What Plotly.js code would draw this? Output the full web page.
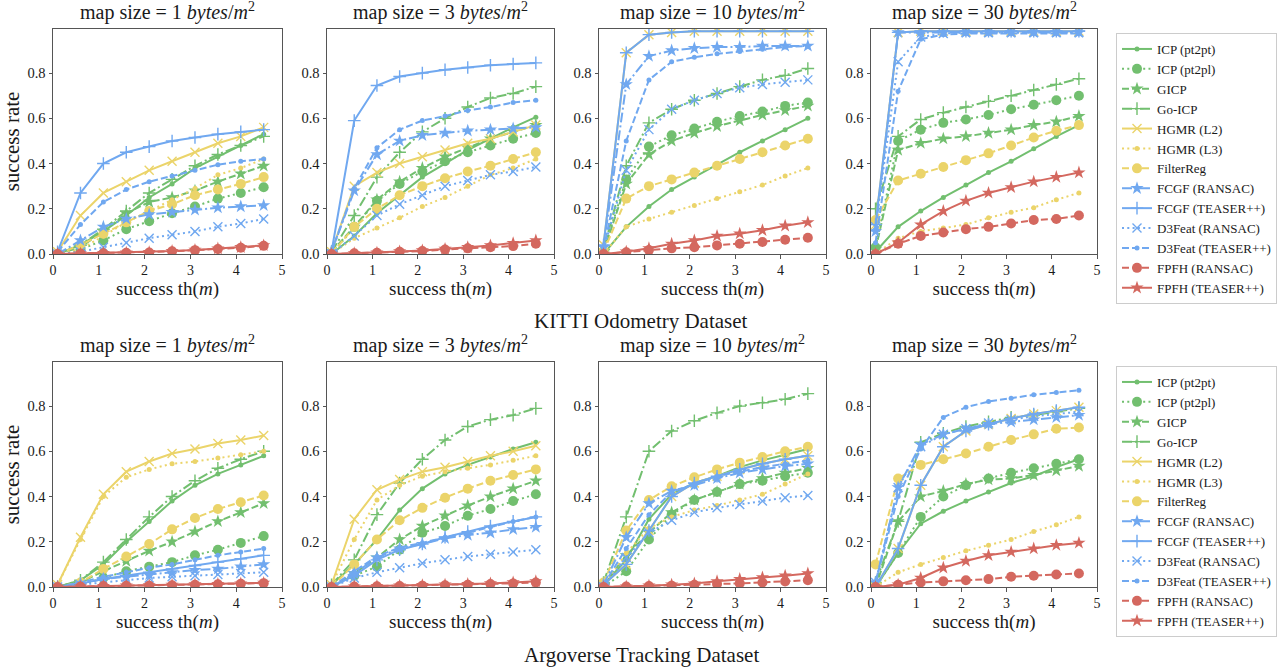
<!DOCTYPE html>
<html>
<head>
<meta charset="utf-8">
<script src="https://cdn.plot.ly/plotly-3.0.1.min.js"></script>
<style>html,body{margin:0;padding:0;background:#fff;}#chart{width:1286px;height:670px;}</style>
</head>
<body>
<div id="chart"></div>
<script>
// ---------------- DATA ----------------
const thresholds = [0.1, 0.6, 1.1, 1.6, 2.1, 2.6, 3.1, 3.6, 4.1, 4.6];
const mapSizes = [1, 3, 10, 30];
const datasets = ['KITTI Odometry Dataset', 'Argoverse Tracking Dataset'];
const methods = ['ICP (pt2pt)', 'ICP (pt2pl)', 'GICP', 'Go-ICP', 'HGMR (L2)', 'HGMR (L3)', 'FilterReg',
  'FCGF (RANSAC)', 'FCGF (TEASER++)', 'D3Feat (RANSAC)', 'D3Feat (TEASER++)', 'FPFH (RANSAC)', 'FPFH (TEASER++)'];

// KITTI: one row per map size (1, 3, 10, 30 bytes/m^2)
const kitti_icp_pt2pt = [
  [0.00, 0.04, 0.10, 0.17, 0.25, 0.31, 0.38, 0.43, 0.48, 0.53],
  [0.00, 0.08, 0.18, 0.26, 0.34, 0.40, 0.46, 0.51, 0.56, 0.605],
  [0.00, 0.12, 0.21, 0.285, 0.34, 0.395, 0.45, 0.50, 0.55, 0.60],
  [0.01, 0.12, 0.19, 0.25, 0.305, 0.36, 0.41, 0.465, 0.52, 0.57]];
const kitti_icp_pt2pl = [
  [0.00, 0.02, 0.06, 0.11, 0.145, 0.18, 0.21, 0.245, 0.27, 0.295],
  [0.00, 0.12, 0.235, 0.31, 0.365, 0.41, 0.45, 0.48, 0.51, 0.535],
  [0.01, 0.33, 0.475, 0.525, 0.555, 0.585, 0.61, 0.63, 0.655, 0.67],
  [0.03, 0.50, 0.55, 0.58, 0.595, 0.615, 0.64, 0.66, 0.68, 0.70]];
const kitti_gicp = [
  [0.00, 0.03, 0.10, 0.18, 0.23, 0.25, 0.28, 0.32, 0.355, 0.39],
  [0.01, 0.12, 0.24, 0.32, 0.38, 0.43, 0.47, 0.51, 0.54, 0.57],
  [0.01, 0.31, 0.44, 0.50, 0.535, 0.565, 0.59, 0.615, 0.635, 0.655],
  [0.02, 0.46, 0.49, 0.51, 0.52, 0.535, 0.55, 0.57, 0.585, 0.61]];
const kitti_goicp = [
  [0.00, 0.04, 0.11, 0.19, 0.27, 0.33, 0.39, 0.44, 0.48, 0.52],
  [0.01, 0.17, 0.34, 0.45, 0.54, 0.60, 0.65, 0.69, 0.71, 0.74],
  [0.02, 0.39, 0.58, 0.64, 0.68, 0.71, 0.74, 0.77, 0.79, 0.82],
  [0.20, 0.52, 0.595, 0.625, 0.65, 0.675, 0.70, 0.725, 0.75, 0.775]];
const kitti_hgmr_l2 = [
  [0.01, 0.17, 0.27, 0.32, 0.37, 0.41, 0.45, 0.49, 0.52, 0.56],
  [0.01, 0.30, 0.36, 0.40, 0.43, 0.46, 0.49, 0.51, 0.54, 0.57],
  [0.04, 0.89, 0.97, 0.98, 0.985, 0.985, 0.985, 0.985, 0.985, 0.985],
  [0.13, 0.98, 0.985, 0.985, 0.985, 0.985, 0.985, 0.985, 0.985, 0.985]];
const kitti_hgmr_l3 = [
  [0.00, 0.02, 0.08, 0.14, 0.19, 0.24, 0.29, 0.35, 0.38, 0.42],
  [0.00, 0.07, 0.115, 0.16, 0.21, 0.25, 0.30, 0.35, 0.38, 0.42],
  [0.00, 0.12, 0.155, 0.185, 0.215, 0.245, 0.275, 0.305, 0.345, 0.38],
  [0.00, 0.07, 0.10, 0.115, 0.13, 0.16, 0.185, 0.205, 0.24, 0.27]];
const kitti_filterreg = [
  [0.00, 0.04, 0.09, 0.14, 0.19, 0.22, 0.26, 0.285, 0.31, 0.34],
  [0.00, 0.12, 0.20, 0.26, 0.30, 0.335, 0.365, 0.39, 0.42, 0.45],
  [0.01, 0.245, 0.30, 0.33, 0.36, 0.39, 0.42, 0.45, 0.48, 0.51],
  [0.15, 0.325, 0.355, 0.385, 0.415, 0.445, 0.48, 0.515, 0.545, 0.57]];
const kitti_fcgf_ransac = [
  [0.00, 0.06, 0.12, 0.155, 0.175, 0.185, 0.195, 0.205, 0.21, 0.215],
  [0.01, 0.28, 0.44, 0.50, 0.525, 0.535, 0.545, 0.55, 0.555, 0.56],
  [0.03, 0.75, 0.875, 0.90, 0.91, 0.915, 0.915, 0.92, 0.92, 0.92],
  [0.10, 0.98, 0.98, 0.98, 0.98, 0.98, 0.98, 0.98, 0.98, 0.98]];
const kitti_fcgf_teaser = [
  [0.01, 0.27, 0.40, 0.45, 0.475, 0.50, 0.515, 0.53, 0.54, 0.55],
  [0.01, 0.59, 0.745, 0.785, 0.80, 0.815, 0.825, 0.835, 0.84, 0.845],
  [0.04, 0.89, 0.97, 0.98, 0.985, 0.985, 0.985, 0.985, 0.985, 0.985],
  [0.13, 0.98, 0.985, 0.985, 0.985, 0.985, 0.985, 0.985, 0.985, 0.985]];
const kitti_d3feat_ransac = [
  [0.00, 0.01, 0.03, 0.05, 0.07, 0.085, 0.10, 0.12, 0.135, 0.155],
  [0.00, 0.08, 0.17, 0.22, 0.26, 0.30, 0.325, 0.35, 0.365, 0.385],
  [0.02, 0.37, 0.55, 0.64, 0.68, 0.71, 0.735, 0.75, 0.76, 0.77],
  [0.12, 0.85, 0.96, 0.975, 0.98, 0.98, 0.98, 0.98, 0.98, 0.98]];
const kitti_d3feat_teaser = [
  [0.01, 0.13, 0.23, 0.285, 0.32, 0.345, 0.37, 0.395, 0.41, 0.42],
  [0.01, 0.29, 0.47, 0.55, 0.59, 0.61, 0.635, 0.65, 0.67, 0.68],
  [0.02, 0.50, 0.77, 0.85, 0.87, 0.885, 0.895, 0.905, 0.915, 0.92],
  [0.05, 0.72, 0.95, 0.97, 0.975, 0.975, 0.975, 0.975, 0.975, 0.975]];
const kitti_fpfh_ransac = [
  [0.00, 0.002, 0.003, 0.005, 0.007, 0.012, 0.017, 0.022, 0.028, 0.036],
  [0.00, 0.003, 0.005, 0.010, 0.013, 0.020, 0.025, 0.030, 0.035, 0.045],
  [0.00, 0.008, 0.018, 0.025, 0.030, 0.038, 0.045, 0.053, 0.063, 0.072],
  [0.00, 0.045, 0.08, 0.095, 0.11, 0.12, 0.135, 0.15, 0.155, 0.17]];
const kitti_fpfh_teaser = [
  [0.00, 0.002, 0.004, 0.006, 0.008, 0.013, 0.018, 0.024, 0.030, 0.038],
  [0.00, 0.003, 0.006, 0.011, 0.016, 0.022, 0.030, 0.038, 0.048, 0.060],
  [0.00, 0.010, 0.025, 0.045, 0.060, 0.080, 0.090, 0.105, 0.125, 0.14],
  [0.00, 0.05, 0.13, 0.19, 0.235, 0.27, 0.295, 0.32, 0.34, 0.36]];

// Argoverse: one row per map size (1, 3, 10, 30 bytes/m^2)
const argo_icp_pt2pt = [
  [0.00, 0.03, 0.10, 0.20, 0.29, 0.38, 0.45, 0.50, 0.54, 0.58],
  [0.01, 0.10, 0.21, 0.34, 0.435, 0.50, 0.54, 0.575, 0.61, 0.64],
  [0.01, 0.12, 0.30, 0.41, 0.46, 0.49, 0.53, 0.56, 0.585, 0.61],
  [0.00, 0.15, 0.28, 0.335, 0.38, 0.42, 0.46, 0.49, 0.53, 0.565]];
const argo_icp_pt2pl = [
  [0.00, 0.01, 0.04, 0.07, 0.09, 0.11, 0.14, 0.165, 0.195, 0.225],
  [0.00, 0.05, 0.09, 0.165, 0.24, 0.27, 0.315, 0.345, 0.38, 0.41],
  [0.00, 0.07, 0.21, 0.32, 0.385, 0.42, 0.455, 0.47, 0.49, 0.505],
  [0.00, 0.15, 0.31, 0.40, 0.45, 0.48, 0.505, 0.525, 0.545, 0.565]];
const argo_gicp = [
  [0.00, 0.02, 0.07, 0.115, 0.16, 0.20, 0.245, 0.29, 0.33, 0.37],
  [0.00, 0.06, 0.13, 0.21, 0.27, 0.315, 0.36, 0.40, 0.435, 0.47],
  [0.01, 0.14, 0.24, 0.33, 0.385, 0.42, 0.455, 0.48, 0.505, 0.525],
  [0.00, 0.29, 0.40, 0.425, 0.455, 0.475, 0.48, 0.495, 0.515, 0.535]];
const argo_goicp = [
  [0.00, 0.03, 0.11, 0.21, 0.31, 0.40, 0.47, 0.525, 0.565, 0.60],
  [0.01, 0.12, 0.32, 0.46, 0.565, 0.65, 0.71, 0.74, 0.76, 0.79],
  [0.02, 0.31, 0.60, 0.69, 0.735, 0.77, 0.80, 0.815, 0.83, 0.855],
  [0.02, 0.29, 0.64, 0.68, 0.71, 0.73, 0.75, 0.76, 0.775, 0.79]];
const argo_hgmr_l2 = [
  [0.01, 0.22, 0.41, 0.51, 0.555, 0.59, 0.61, 0.635, 0.65, 0.67],
  [0.01, 0.30, 0.43, 0.475, 0.51, 0.53, 0.555, 0.58, 0.60, 0.625],
  [0.01, 0.10, 0.25, 0.40, 0.46, 0.49, 0.52, 0.545, 0.565, 0.58],
  [0.00, 0.17, 0.45, 0.62, 0.69, 0.72, 0.745, 0.765, 0.78, 0.795]];
const argo_hgmr_l3 = [
  [0.01, 0.21, 0.40, 0.485, 0.52, 0.545, 0.555, 0.57, 0.585, 0.60],
  [0.01, 0.21, 0.385, 0.45, 0.49, 0.51, 0.525, 0.54, 0.56, 0.58],
  [0.00, 0.15, 0.26, 0.31, 0.34, 0.36, 0.385, 0.41, 0.455, 0.50],
  [0.00, 0.065, 0.10, 0.13, 0.16, 0.185, 0.21, 0.245, 0.275, 0.31]];
const argo_filterreg = [
  [0.00, 0.02, 0.08, 0.135, 0.19, 0.255, 0.305, 0.345, 0.375, 0.405],
  [0.00, 0.10, 0.21, 0.295, 0.35, 0.395, 0.435, 0.47, 0.495, 0.52],
  [0.02, 0.25, 0.385, 0.445, 0.485, 0.52, 0.55, 0.575, 0.60, 0.62],
  [0.10, 0.48, 0.54, 0.565, 0.59, 0.62, 0.65, 0.675, 0.70, 0.705]];
const argo_fcgf_ransac = [
  [0.00, 0.015, 0.035, 0.045, 0.055, 0.065, 0.075, 0.08, 0.09, 0.10],
  [0.00, 0.06, 0.13, 0.17, 0.19, 0.215, 0.23, 0.24, 0.255, 0.265],
  [0.01, 0.22, 0.37, 0.425, 0.45, 0.48, 0.505, 0.52, 0.535, 0.545],
  [0.02, 0.44, 0.63, 0.675, 0.70, 0.72, 0.73, 0.74, 0.75, 0.76]];
const argo_fcgf_teaser = [
  [0.00, 0.015, 0.035, 0.05, 0.065, 0.08, 0.095, 0.11, 0.125, 0.14],
  [0.00, 0.05, 0.12, 0.165, 0.19, 0.22, 0.245, 0.27, 0.29, 0.31],
  [0.01, 0.10, 0.25, 0.40, 0.46, 0.49, 0.52, 0.545, 0.565, 0.58],
  [0.00, 0.17, 0.45, 0.62, 0.69, 0.72, 0.745, 0.765, 0.78, 0.795]];
const argo_d3feat_ransac = [
  [0.00, 0.01, 0.02, 0.03, 0.04, 0.045, 0.05, 0.055, 0.06, 0.065],
  [0.00, 0.04, 0.065, 0.085, 0.105, 0.12, 0.135, 0.145, 0.155, 0.165],
  [0.00, 0.13, 0.24, 0.295, 0.33, 0.35, 0.365, 0.38, 0.395, 0.405],
  [0.02, 0.44, 0.62, 0.675, 0.70, 0.725, 0.74, 0.755, 0.765, 0.775]];
const argo_d3feat_teaser = [
  [0.00, 0.02, 0.045, 0.065, 0.085, 0.10, 0.12, 0.14, 0.155, 0.17],
  [0.00, 0.07, 0.135, 0.175, 0.195, 0.22, 0.24, 0.265, 0.29, 0.31],
  [0.01, 0.17, 0.32, 0.42, 0.455, 0.49, 0.51, 0.53, 0.545, 0.56],
  [0.02, 0.40, 0.61, 0.75, 0.795, 0.82, 0.835, 0.85, 0.86, 0.87]];
const argo_fpfh_ransac = [
  [0.00, 0.002, 0.004, 0.005, 0.006, 0.008, 0.010, 0.012, 0.014, 0.017],
  [0.00, 0.002, 0.003, 0.004, 0.006, 0.008, 0.010, 0.013, 0.016, 0.020],
  [0.00, 0.002, 0.004, 0.006, 0.010, 0.013, 0.016, 0.020, 0.024, 0.030],
  [0.00, 0.010, 0.020, 0.025, 0.030, 0.035, 0.045, 0.050, 0.055, 0.060]];
const argo_fpfh_teaser = [
  [0.00, 0.002, 0.004, 0.006, 0.007, 0.009, 0.011, 0.013, 0.015, 0.018],
  [0.00, 0.002, 0.004, 0.006, 0.008, 0.010, 0.013, 0.016, 0.020, 0.025],
  [0.00, 0.002, 0.006, 0.010, 0.015, 0.025, 0.035, 0.042, 0.050, 0.060],
  [0.00, 0.010, 0.040, 0.085, 0.115, 0.14, 0.155, 0.17, 0.185, 0.195]];

// ---------------- STYLE ----------------
const GREEN = '#72bf6f', YELLOW = '#ebd46a', BLUE = '#70a8f0', RED = '#d4685f';
const DASHED = '7px,3px', DOTTED = '2px,3.3px', DASHDOT = '10px,3px,2px,3px';
const styles = [
  {color: GREEN, dash: 'solid', symbol: 'circle', size: 5},
  {color: GREEN, dash: DOTTED, symbol: 'circle', size: 10},
  {color: GREEN, dash: DASHED, symbol: 'star', size: 10},
  {color: GREEN, dash: DASHDOT, symbol: 'cross-thin', size: 9},
  {color: YELLOW, dash: 'solid', symbol: 'x-thin', size: 9},
  {color: YELLOW, dash: DOTTED, symbol: 'circle', size: 5},
  {color: YELLOW, dash: DASHED, symbol: 'circle', size: 10},
  {color: BLUE, dash: DASHDOT, symbol: 'star', size: 10},
  {color: BLUE, dash: 'solid', symbol: 'cross-thin', size: 9},
  {color: BLUE, dash: DOTTED, symbol: 'x-thin', size: 9},
  {color: BLUE, dash: DASHED, symbol: 'circle', size: 5},
  {color: RED, dash: DASHED, symbol: 'circle', size: 10},
  {color: RED, dash: 'solid', symbol: 'star', size: 10}
];
const kittiSeries = [kitti_icp_pt2pt, kitti_icp_pt2pl, kitti_gicp, kitti_goicp, kitti_hgmr_l2, kitti_hgmr_l3,
  kitti_filterreg, kitti_fcgf_ransac, kitti_fcgf_teaser, kitti_d3feat_ransac, kitti_d3feat_teaser,
  kitti_fpfh_ransac, kitti_fpfh_teaser];
const argoSeries = [argo_icp_pt2pt, argo_icp_pt2pl, argo_gicp, argo_goicp, argo_hgmr_l2, argo_hgmr_l3,
  argo_filterreg, argo_fcgf_ransac, argo_fcgf_teaser, argo_d3feat_ransac, argo_d3feat_teaser,
  argo_fpfh_ransac, argo_fpfh_teaser];

// ---------------- LAYOUT ----------------
const W = 1286, H = 670;
const colPx = [[53, 282], [327, 554], [599, 826], [871, 1097]];
const rowPx = [[29, 254], [362, 587]]; // top, bottom in px from top
const FONT = 'Liberation Serif, Times New Roman, serif';
const TXT = '#1a1a1a';
const layout = {
  width: W, height: H,
  margin: {l: 0, r: 0, t: 0, b: 0},
  paper_bgcolor: '#fff', plot_bgcolor: '#fff',
  font: {family: FONT, color: TXT, size: 14},
  annotations: [],
  legend: {
    x: 1116 / W, y: 1 - 33 / H, xanchor: 'left', yanchor: 'top',
    bordercolor: '#cccccc', borderwidth: 1, bgcolor: '#fff',
    font: {family: FONT, size: 13, color: TXT}, tracegroupgap: 0, itemwidth: 30
  },
  legend2: {
    x: 1116 / W, y: 1 - 366 / H, xanchor: 'left', yanchor: 'top',
    bordercolor: '#cccccc', borderwidth: 1, bgcolor: '#fff',
    font: {family: FONT, size: 13, color: TXT}, tracegroupgap: 0, itemwidth: 30
  }
};
const traces = [];
for (let r = 0; r < 2; r++) {
  const series = r === 0 ? kittiSeries : argoSeries;
  for (let c = 0; c < 4; c++) {
    const idx = r * 4 + c + 1;
    const xa = 'xaxis' + (idx === 1 ? '' : idx), ya = 'yaxis' + (idx === 1 ? '' : idx);
    const xr = 'x' + (idx === 1 ? '' : idx), yr = 'y' + (idx === 1 ? '' : idx);
    layout[xa] = {
      domain: [colPx[c][0] / W, colPx[c][1] / W], anchor: yr, range: [0, 5], dtick: 1, tick0: 0,
      showgrid: false, zeroline: false, showline: true, mirror: true, linecolor: '#555', linewidth: 1,
      ticks: 'outside', ticklen: 3.5, tickcolor: '#555', tickfont: {size: 14, family: FONT, color: TXT},
      title: {text: 'success th(<i>m</i>)', font: {size: 19, family: FONT, color: TXT}, standoff: 0},
      automargin: false
    };
    layout[ya] = {
      domain: [1 - rowPx[r][1] / H, 1 - rowPx[r][0] / H], anchor: xr, range: [0, 0.995],
      tickvals: [0, 0.2, 0.4, 0.6, 0.8], ticktext: ['0.0', '0.2', '0.4', '0.6', '0.8'],
      showgrid: false, zeroline: false, showline: true, mirror: true, linecolor: '#555', linewidth: 1,
      ticks: 'outside', ticklen: 3.5, tickcolor: '#555', tickfont: {size: 14.5, family: FONT, color: TXT},
      automargin: false
    };
    if (c === 0) {
      layout[ya].title = {text: 'success rate', font: {size: 21, family: FONT, color: TXT}, standoff: 4};
    }
    layout.annotations.push({
      text: 'map size = ' + mapSizes[c] + ' <i>bytes</i>/<i>m</i><sup>2</sup>',
      xref: 'paper', yref: 'paper', x: (colPx[c][0] + colPx[c][1]) / 2 / W,
      y: 1 - (rowPx[r][0] - 3) / H, xanchor: 'center', yanchor: 'bottom', showarrow: false,
      font: {size: 20, family: FONT, color: TXT}
    });
    for (let m = 0; m < methods.length; m++) {
      const s = styles[m];
      const thin = s.symbol.indexOf('thin') >= 0;
      traces.push({
        type: 'scatter', mode: 'lines+markers',
        x: thresholds, y: series[m][c],
        xaxis: xr, yaxis: yr,
        name: methods[m],
        legend: r === 0 ? 'legend' : 'legend2',
        showlegend: c === 0,
        line: {color: s.color, width: 2, dash: s.dash},
        marker: {symbol: s.symbol, size: s.size, color: s.color,
          line: {color: s.color, width: thin ? 1.4 : 0}},
        hoverinfo: 'x+y+name'
      });
    }
  }
}
layout.annotations.push({
  text: datasets[0], xref: 'paper', yref: 'paper', x: 641 / W, y: 1 - 321 / H,
  xanchor: 'center', yanchor: 'middle', showarrow: false, font: {size: 21, family: FONT, color: TXT}
});
layout.annotations.push({
  text: datasets[1], xref: 'paper', yref: 'paper', x: 641 / W, y: 1 - 655 / H,
  xanchor: 'center', yanchor: 'middle', showarrow: false, font: {size: 21, family: FONT, color: TXT}
});
Plotly.newPlot('chart', traces, layout, {displayModeBar: false, staticPlot: true});
</script>
</body>
</html>
